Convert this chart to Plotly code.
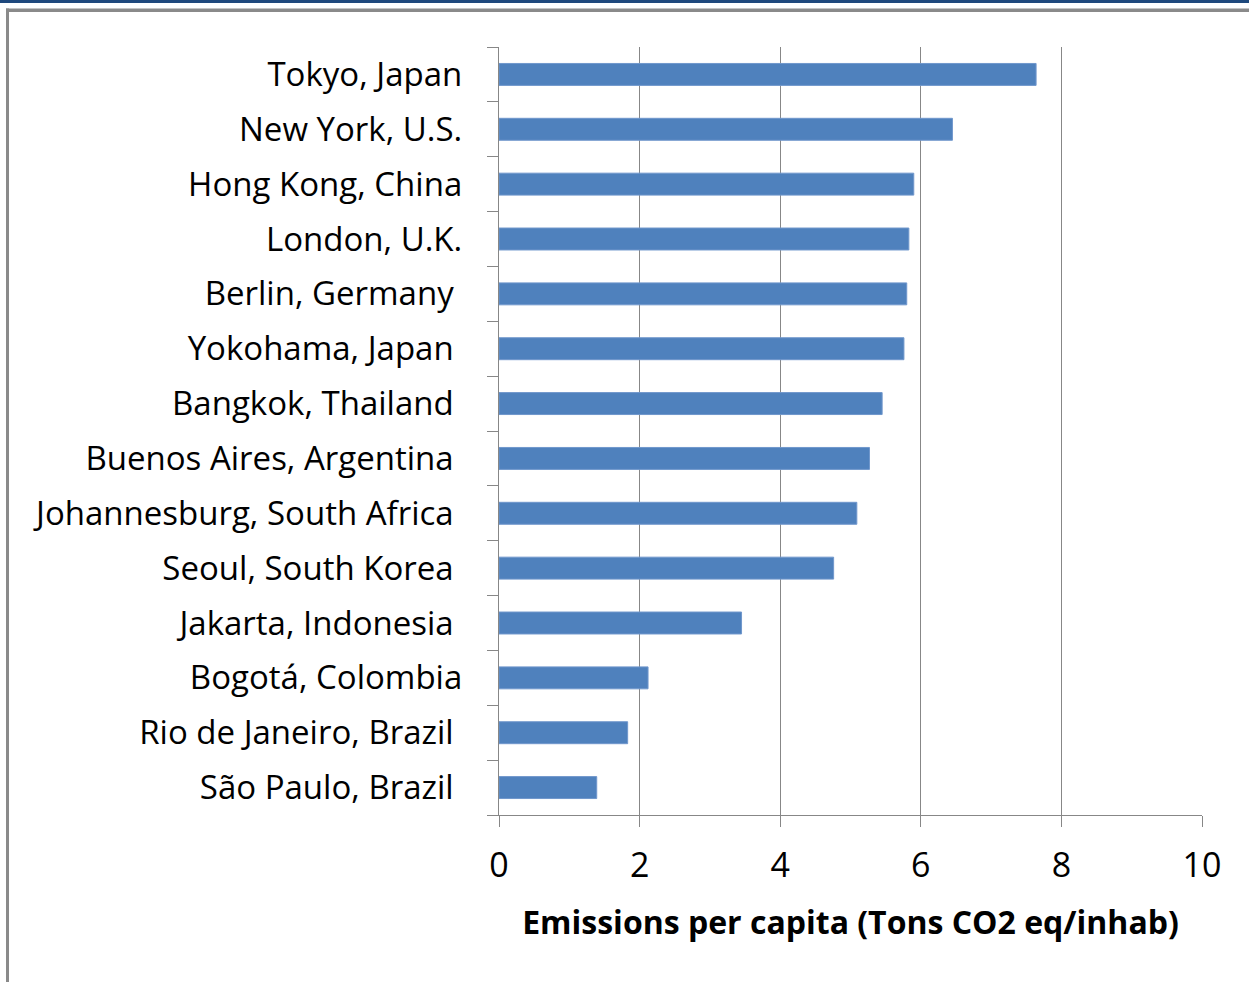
import plotly.graph_objects as go

cities = ["Tokyo, Japan", "New York, U.S.", "Hong Kong, China", "London, U.K.",
          "Berlin, Germany", "Yokohama, Japan", "Bangkok, Thailand",
          "Buenos Aires, Argentina", "Johannesburg, South Africa",
          "Seoul, South Korea", "Jakarta, Indonesia", "Bogotá, Colombia",
          "Rio de Janeiro, Brazil", "São Paulo, Brazil"]
emissions = [7.64, 6.45, 5.90, 5.83, 5.80, 5.76, 5.45, 5.27, 5.09, 4.76,
             3.45, 2.12, 1.83, 1.39]
# labels in the original carry a trailing space on some entries
label_pad = [0, 0, 0, 0, 1, 1, 1, 1, 1, 1, 1, 0, 1, 1]
x_ticks = [0, 2, 4, 6, 8, 10]
x_title = "Emissions per capita (Tons CO2 eq/inhab)"

ticktext = [c + ("\u00a0" if p else "") for c, p in zip(cities, label_pad)]

W, H = 1249, 982
L, R, T, B = 499, 47, 47, 167
pw, ph = W - L - R, H - T - B

def px(x):
    return (x - L) / pw

def py(y):
    return 1 - (y - T) / ph

fig = go.Figure(go.Bar(
    x=emissions, y=cities, orientation="h",
    marker=dict(color="#4F81BD", line=dict(color="#7097cc", width=1)),
    width=0.4,
))

grid = "#878787"
FONT = "Open Sans"
fig.update_layout(
    width=W, height=H,
    margin=dict(l=L, r=R, t=T, b=B),
    paper_bgcolor="white", plot_bgcolor="white",
    showlegend=False,
    font=dict(family=FONT, color="black"),
    xaxis=dict(
        range=[0, 10], tickvals=x_ticks, ticktext=[str(v) for v in x_ticks],
        showgrid=True, gridcolor=grid, gridwidth=1.3,
        showline=True, linecolor=grid, linewidth=1.3,
        ticks="outside", ticklen=11, tickcolor=grid, tickwidth=1.3,
        tickfont=dict(size=34, family=FONT),
        ticklabelstandoff=9,
        zeroline=False,
        title=dict(text="<b>" + x_title + "</b>",
                   font=dict(size=32, family=FONT), standoff=25),
    ),
    yaxis=dict(
        tickmode="array", tickvals=cities, ticktext=ticktext,
        autorange="reversed",
        showgrid=False, showline=True, linecolor=grid, linewidth=1.3,
        ticks="outside", tickson="boundaries", ticklen=11, tickcolor=grid,
        tickwidth=1.3,
        tickfont=dict(size=33, family=FONT),
        ticklabelstandoff=29,
    ),
    shapes=[
        dict(type="rect", xref="paper", yref="paper",
             x0=px(0), x1=px(W), y0=py(0), y1=py(3),
             fillcolor="#1F497D", line=dict(width=0), layer="above"),
        dict(type="rect", xref="paper", yref="paper",
             x0=px(6), x1=px(W), y0=py(8.5), y1=py(12),
             fillcolor="#8a8a8a", line=dict(width=0), layer="above"),
        dict(type="rect", xref="paper", yref="paper",
             x0=px(6), x1=px(9), y0=py(8.5), y1=py(H),
             fillcolor="#8a8a8a", line=dict(width=0), layer="above"),
    ],
)

fig.write_html("out.html")
